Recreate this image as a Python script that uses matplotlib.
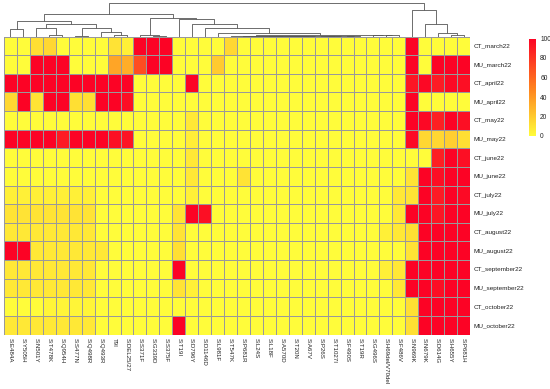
import matplotlib

matplotlib.use("Agg")
import matplotlib.pyplot as plt
import numpy as np
from matplotlib.colors import LinearSegmentedColormap
from matplotlib.collections import LineCollection

plt.rcParams["font.family"] = ["Liberation Sans", "DejaVu Sans"]

row_labels = [
    "CT_march22", "MU_march22", "CT_april22", "MU_april22", "CT_may22", "MU_may22",
    "CT_june22", "MU_june22", "CT_july22", "MU_july22", "CT_august22", "MU_august22",
    "CT_september22", "MU_september22", "CT_october22", "MU_october22",
]

col_labels = [
    "S:E484A", "S:Y505H", "S:N501Y", "S:T478K", "S:Q954H", "S:S477N", "S:Q498R",
    "S:Q493R", "T9I", "S:DEL25/27", "S:S371F", "S:G339D", "S:S375F", "S:T19I",
    "S:D796Y", "S:D1146D", "S:L981F", "S:T547K", "S:P681R", "S:L24S", "S:L18F",
    "S:A570D", "S:T20N", "S:A67V", "S:P26S", "S:T1027I", "S:F490S", "S:T19R",
    "S:G496S", "S:H69del/V70del", "S:F486V", "S:N969K", "S:N679K", "S:D614G",
    "S:H655Y", "S:P681H",
]

# % per sample (rows) and mutation (columns)
values = [
    [0, 0, 12, 15, 0, 0, 0, 0, 10, 5, 100, 100, 100, 0, 0, 0, 0, 15, 0, 0, 0, 0, 0, 0, 0, 0, 0, 0, 0, 0, 0, 100, 0, 0, 0, 0],
    [0, 0, 100, 100, 100, 0, 0, 0, 35, 32, 70, 100, 100, 0, 0, 0, 20, 0, 0, 0, 0, 0, 0, 0, 0, 0, 0, 0, 0, 0, 0, 100, 0, 100, 100, 100],
    [100, 100, 100, 100, 100, 100, 100, 100, 100, 100, 0, 0, 0, 0, 100, 0, 0, 0, 0, 0, 0, 0, 0, 0, 0, 0, 0, 0, 0, 0, 0, 92, 98, 90, 97, 95],
    [15, 100, 10, 100, 100, 12, 12, 100, 100, 95, 0, 0, 0, 0, 0, 0, 0, 0, 0, 0, 0, 0, 0, 0, 0, 0, 0, 0, 0, 0, 0, 100, 0, 0, 0, 0],
    [0, 0, 0, 0, 0, 0, 0, 0, 0, 0, 0, 0, 0, 0, 8, 0, 0, 0, 0, 0, 0, 0, 0, 0, 0, 0, 0, 0, 0, 0, 0, 100, 98, 88, 100, 95],
    [100, 100, 100, 100, 90, 100, 100, 100, 95, 93, 0, 0, 0, 0, 6, 0, 0, 0, 0, 0, 0, 0, 0, 0, 0, 0, 0, 0, 0, 0, 0, 97, 15, 15, 18, 12],
    [0, 0, 0, 0, 0, 0, 0, 0, 0, 0, 0, 0, 0, 0, 8, 0, 0, 0, 0, 0, 0, 0, 0, 0, 0, 0, 0, 0, 0, 0, 0, 0, 0, 88, 100, 95],
    [0, 0, 0, 0, 0, 0, 0, 0, 0, 0, 0, 0, 0, 0, 8, 0, 0, 0, 10, 0, 0, 0, 0, 0, 0, 0, 0, 0, 0, 0, 0, 10, 100, 95, 100, 100],
    [5, 5, 5, 5, 5, 5, 5, 0, 0, 0, 0, 0, 0, 0, 5, 0, 0, 0, 0, 0, 0, 0, 0, 0, 0, 0, 0, 0, 0, 0, 8, 10, 100, 90, 100, 97],
    [10, 10, 10, 10, 10, 10, 10, 0, 0, 0, 0, 0, 0, 10, 100, 95, 0, 0, 0, 0, 0, 0, 0, 0, 0, 0, 0, 0, 0, 0, 8, 100, 100, 92, 100, 100],
    [8, 8, 8, 8, 8, 8, 8, 0, 0, 0, 0, 0, 0, 10, 0, 0, 0, 0, 0, 0, 0, 0, 0, 0, 0, 0, 0, 0, 0, 5, 8, 12, 100, 100, 100, 100],
    [100, 100, 8, 8, 8, 8, 8, 8, 0, 0, 0, 0, 0, 12, 0, 0, 0, 0, 0, 0, 0, 0, 0, 0, 0, 0, 0, 0, 0, 0, 0, 10, 100, 100, 100, 100],
    [8, 8, 8, 8, 8, 8, 8, 0, 0, 0, 0, 0, 0, 100, 0, 0, 0, 0, 0, 0, 0, 0, 0, 0, 0, 0, 0, 0, 0, 5, 8, 100, 100, 100, 100, 100],
    [8, 8, 8, 8, 8, 8, 8, 0, 0, 0, 0, 0, 0, 10, 5, 0, 0, 0, 0, 0, 0, 0, 0, 0, 0, 0, 0, 0, 0, 0, 8, 100, 100, 95, 100, 100],
    [0, 0, 0, 3, 3, 3, 3, 0, 0, 0, 0, 0, 0, 0, 0, 0, 0, 0, 0, 0, 0, 0, 0, 0, 0, 0, 0, 0, 0, 0, 0, 12, 100, 100, 100, 100],
    [8, 8, 8, 8, 8, 8, 8, 0, 0, 0, 0, 0, 0, 100, 0, 0, 0, 0, 0, 0, 0, 0, 0, 0, 0, 0, 0, 0, 0, 0, 0, 12, 100, 100, 100, 100],
]

# column clustering: (left, right, height); leaves are 0..35, merge k gets id 36 + k
merges = [
    (3, 4, 4.5), (2, 36, 25), (5, 6, 3), (8, 9, 4.5), (7, 39, 12.7),
    (38, 40, 26.5), (37, 41, 37), (0, 1, 22), (43, 42, 47), (11, 12, 1),
    (10, 45, 4.5), (20, 21, 0.5), (22, 23, 0.5), (47, 48, 1.0), (24, 25, 0.6),
    (26, 27, 0.8), (50, 51, 1.3), (49, 52, 1.8), (18, 19, 1.2), (54, 53, 2.2),
    (17, 55, 3.0), (29, 30, 3.5), (28, 57, 4.2), (56, 58, 5.0), (16, 59, 9.6),
    (15, 60, 24.7), (14, 61, 37.7), (13, 62, 52.7), (46, 63, 55), (44, 64, 67),
    (34, 35, 6), (33, 66, 9.6), (32, 67, 37.7), (31, 68, 80), (65, 69, 100),
]

W, H = 550, 389
fig = plt.figure(figsize=(W / 100, H / 100), dpi=100)


def box(x0, y0, x1, y1):
    return [x0 / W, 1 - y1 / H, (x1 - x0) / W, (y1 - y0) / H]


cmap = LinearSegmentedColormap.from_list("yr", ["#FFFC3A", "#FF7F1E", "#FC0325"])
data = np.array(values, dtype=float)
n_rows, n_cols = data.shape

ax = fig.add_axes(box(4, 36.5, 470, 334.5))
mesh = ax.pcolormesh(data, cmap=cmap, vmin=0, vmax=100, edgecolors="#999999", linewidth=0.5)
ax.set_xlim(0, n_cols)
ax.set_ylim(n_rows, 0)
ax.set_xticks(np.arange(n_cols) + 0.5)
ax.set_xticklabels(col_labels, rotation=270, fontsize=4.4, color="#222222")
ax.yaxis.tick_right()
ax.set_yticks(np.arange(n_rows) + 0.5)
ax.set_yticklabels(row_labels, fontsize=4.6, color="#222222")
ax.tick_params(length=0, pad=2.5)
for s in ax.spines.values():
    s.set_visible(False)

# dendrogram on top
dax = fig.add_axes(box(4, 3, 470, 36.5))
pos = {i: i + 0.5 for i in range(n_cols)}
hgt = {i: 0.0 for i in range(n_cols)}
segs = []
for k, (a, b, h) in enumerate(merges):
    xa, xb = pos[a], pos[b]
    segs.append([(xa, hgt[a]), (xa, h), (xb, h), (xb, hgt[b])])
    pos[n_cols + k] = (xa + xb) / 2
    hgt[n_cols + k] = h
dax.add_collection(LineCollection(segs, colors="#555555", linewidths=0.6))
dax.set_xlim(0, n_cols)
dax.set_ylim(0, 101)
dax.axis("off")

# colour legend
cax = fig.add_axes(box(529, 38.5, 536, 136))
cb = fig.colorbar(mesh, cax=cax, ticks=[0, 20, 40, 60, 80, 100])
cb.outline.set_visible(False)
cb.ax.tick_params(length=0, labelsize=4.8, pad=3, colors="#222222")

fig.savefig("out.png", dpi=100)
